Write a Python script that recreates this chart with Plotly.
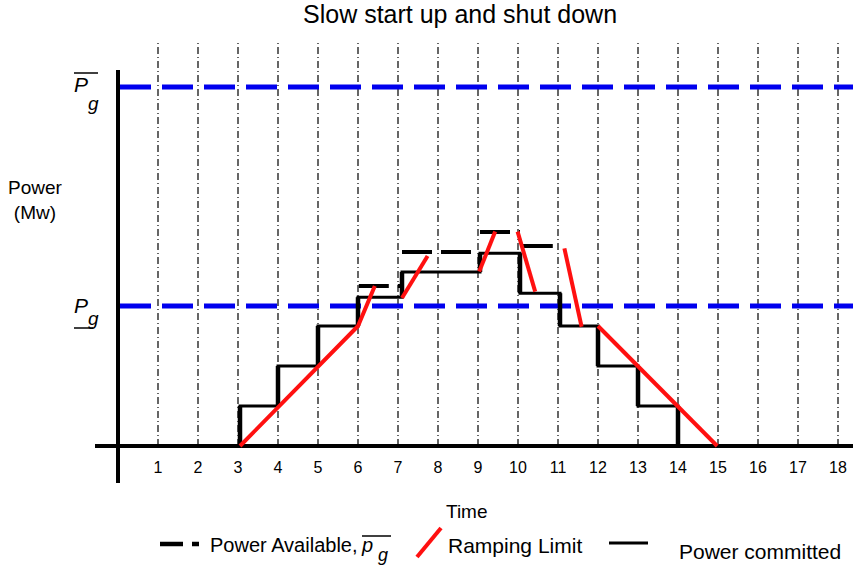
import plotly.graph_objects as go

# ---------------- data ----------------
hours = list(range(1, 19))
tick_labels = [str(h) for h in hours]

# power committed (step profile): time, power units
commit_t = [3.05, 3.05, 4, 4, 5, 5, 6, 6, 7.1, 7.1, 9.05, 9.05, 10.05, 10.05, 11.05, 11.05, 12, 12, 13, 13, 14, 14]
commit_p = [0, 1, 1, 2, 2, 3, 3, 3.72, 3.72, 4.35, 4.35, 4.82, 4.82, 3.82, 3.82, 3, 3, 2, 2, 1, 1, 0]

# power available (dashed)
avail_t = [6.02, 7.1, None, 7.1, 9.05, None, 9.05, 10.05, None, 10.12, 11.05]
avail_p = [4.0, 4.0, None, 4.85, 4.85, None, 5.35, 5.35, None, 5.0, 5.0]

# ramping limits (red)
ramp_t = [3.05, 6, 6.42, None, 7.1, 7.74, None, 9.03, 9.43, None, 9.99, 10.43, None, 11.16, 11.59, None, 12, 14.98]
ramp_p = [0, 3, 4.0, None, 3.7, 4.75, None, 4.36, 5.36, None, 5.36, 3.86, None, 4.94, 2.98, None, 3, 0]

p_max = 8.975
p_min = 3.5
grid_top = 10.1

FIG_W, FIG_H = 853, 572
FONT = "Liberation Sans, Arial, sans-serif"


def X(px):
    return (px - 118) / 40.0


def Y(py):
    return (446 - py) / 40.0


X0, X1 = X(0), X(FIG_W)
Y0, Y1 = Y(FIG_H), Y(0)

fig = go.Figure()

# vertical dash-dot grid lines
gx, gy = [], []
for h in hours:
    gx += [h, h, None]
    gy += [0, grid_top, None]
fig.add_trace(go.Scatter(x=gx, y=gy, mode="lines",
                         line=dict(color="#000000", width=1.2, dash="7px,3px,1px,3px"),
                         hoverinfo="skip", showlegend=False))

# P limits (blue dashed)
for lvl in (p_max, p_min):
    fig.add_trace(go.Scatter(x=[0.05, X1 + 0.1], y=[lvl, lvl], mode="lines",
                             line=dict(color="#0000ee", width=5, dash="31px,11px"),
                             hoverinfo="skip", showlegend=False))

# axes lines
fig.add_trace(go.Scatter(x=[X(95), X1 + 0.1], y=[0, 0], mode="lines",
                         line=dict(color="black", width=4), hoverinfo="skip", showlegend=False))
fig.add_trace(go.Scatter(x=[0, 0], y=[Y(70), Y(483)], mode="lines",
                         line=dict(color="black", width=4), hoverinfo="skip", showlegend=False))

# power available
fig.add_trace(go.Scatter(x=avail_t, y=avail_p, mode="lines",
                         line=dict(color="black", width=4, dash="30px,9px"),
                         hoverinfo="skip", showlegend=False))

# power committed
fig.add_trace(go.Scatter(x=commit_t, y=commit_p, mode="lines",
                         line=dict(color="black", width=3),
                         hoverinfo="skip", showlegend=False))
vx, vy = [], []
for i in range(len(commit_t) - 1):
    if commit_t[i] == commit_t[i + 1]:
        vx += [commit_t[i], commit_t[i + 1], None]
        vy += [commit_p[i], commit_p[i + 1], None]
fig.add_trace(go.Scatter(x=vx, y=vy, mode="lines",
                         line=dict(color="black", width=4.5),
                         hoverinfo="skip", showlegend=False))

# ramping limit
fig.add_trace(go.Scatter(x=ramp_t, y=ramp_p, mode="lines",
                         line=dict(color="#ff1010", width=4),
                         hoverinfo="skip", showlegend=False))

# tick labels
fig.add_trace(go.Scatter(x=hours, y=[Y(469)] * len(hours), mode="text",
                         text=tick_labels, textposition="middle center",
                         textfont=dict(family=FONT, size=16, color="black"),
                         hoverinfo="skip", showlegend=False))

ann = []


def text(px, py, t, size=20, xanchor="center", italic=False):
    ann.append(dict(x=X(px), y=Y(py), xref="x", yref="y", text=t, showarrow=False,
                    xanchor=xanchor, yanchor="middle",
                    font=dict(family=FONT, size=size, color="black",
                              style="italic" if italic else "normal")))


text(460, 14, "Slow start up and shut down", size=25)
text(467, 511, "Time", size=19)
text(35, 200, "Power<br>(Mw)", size=19)

# P_g upper (overline)
text(81, 84, "P", size=21, italic=True)
text(93, 103, "g", size=19, italic=True)
# P_g lower (underline)
text(81, 305, "P", size=21, italic=True)
text(93, 318, "g", size=19, italic=True)

# legend texts
text(208, 545, "Power Available,", size=20, xanchor="left")
text(367, 545, "p", size=20, italic=True)
text(383, 555, "g", size=18, italic=True)
text(446, 545, "Ramping Limit", size=21, xanchor="left")
text(677, 551, "Power committed", size=21, xanchor="left")

shapes = []


def seg(x0, y0, x1, y1, color="black", width=1.5, dash="solid"):
    shapes.append(dict(type="line", xref="x", yref="y", x0=X(x0), y0=Y(y0), x1=X(x1), y1=Y(y1),
                       line=dict(color=color, width=width, dash=dash)))


# overline / underline decorations
seg(74, 73, 98, 73)
seg(74, 328, 93, 328)
seg(362, 536, 391, 536)
# legend samples
seg(160, 544, 199, 544, width=4.5, dash="23px,9px")
seg(417, 557, 441, 528, color="#ff1010", width=4)
seg(609, 543, 648, 543, width=3)

fig.update_layout(
    width=FIG_W, height=FIG_H,
    margin=dict(l=0, r=0, t=0, b=0),
    paper_bgcolor="white", plot_bgcolor="white",
    xaxis=dict(range=[X0, X1], visible=False, fixedrange=True),
    yaxis=dict(range=[Y0, Y1], visible=False, fixedrange=True),
    annotations=ann, shapes=shapes,
    showlegend=False,
)

fig.write_html("out.html",
               config={"displayModeBar": False},
               post_script="document.body.style.margin='0';document.body.style.overflow='hidden';")
